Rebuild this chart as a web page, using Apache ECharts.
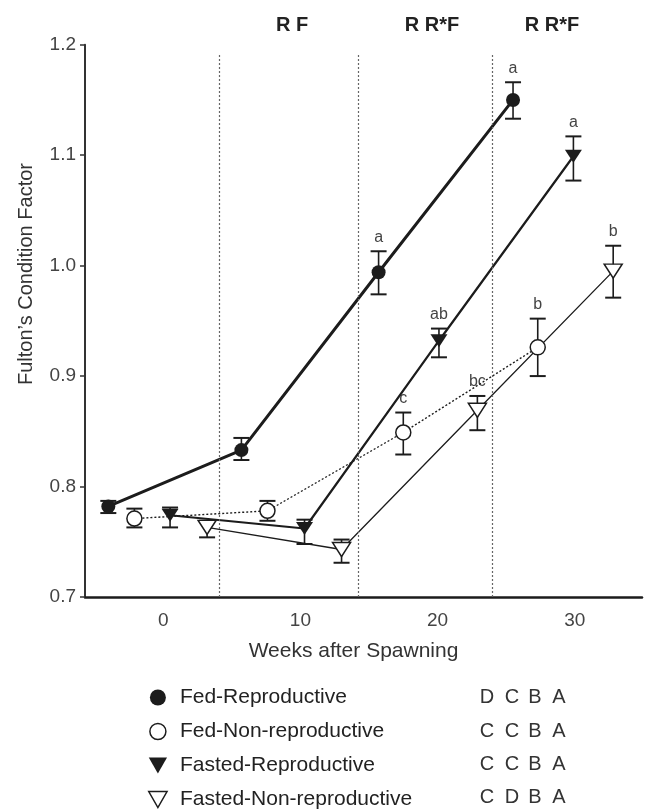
<!DOCTYPE html>
<html>
<head>
<meta charset="utf-8">
<script src="https://cdn.jsdelivr.net/npm/echarts@6/dist/echarts.min.js"></script>
<style>
  html, body { margin: 0; padding: 0; background: #ffffff; }
  #chart { width: 645px; height: 812px; }
</style>
</head>
<body>
<div id="chart"></div>
<script>
// ---- data -------------------------------------------------------------
const groupNames = ['Fed-Reproductive', 'Fed-Non-reproductive', 'Fasted-Reproductive', 'Fasted-Non-reproductive'];

const fedReproWeeks   = [-4.0, 5.7, 15.7, 25.5];
const fedReproMean    = [0.782, 0.833, 0.994, 1.150];
const fedReproUpper   = [0.787, 0.844, 1.013, 1.166];
const fedReproLower   = [0.776, 0.824, 0.974, 1.133];
const fedReproLetters = ['', '', 'a', 'a'];

const fedNonWeeks   = [-2.1, 7.6, 17.5, 27.3];
const fedNonMean    = [0.771, 0.778, 0.849, 0.926];
const fedNonUpper   = [0.780, 0.787, 0.867, 0.952];
const fedNonLower   = [0.763, 0.769, 0.829, 0.900];
const fedNonLetters = ['', '', 'c', 'b'];

const fastReproWeeks   = [0.5, 10.3, 20.1, 29.9];
const fastReproMean    = [0.774, 0.762, 0.932, 1.099];
const fastReproUpper   = [0.781, 0.770, 0.943, 1.117];
const fastReproLower   = [0.763, 0.748, 0.917, 1.077];
const fastReproLetters = ['', '', 'ab', 'a'];

const fastNonWeeks   = [3.2, 13.0, 22.9, 32.8];
const fastNonMean    = [0.763, 0.743, 0.869, 0.995];
const fastNonUpper   = [0.769, 0.752, 0.882, 1.018];
const fastNonLower   = [0.754, 0.731, 0.851, 0.971];
const fastNonLetters = ['', '', 'bc', 'b'];

const xTickValues = [0, 10, 20, 30];
const yTickMin = 0.7, yTickMax = 1.2, yTickStep = 0.1;
const periodDividers = [4.1, 14.2, 24.0];
const periodEffects = ['R F', 'R R*F', 'R R*F'];
const overallLetters = [
  ['D', 'C', 'B', 'A'],
  ['C', 'C', 'B', 'A'],
  ['C', 'C', 'B', 'A'],
  ['C', 'D', 'B', 'A']
];

// ---- styling ----------------------------------------------------------
const INK = '#1c1c1c';
const FONT = '"Liberation Sans", Arial, Helvetica, sans-serif';
const downTri = 'path://M0,0L16,0L8,14Z';

const groups = [
  { name: groupNames[0], weeks: fedReproWeeks, mean: fedReproMean, up: fedReproUpper, lo: fedReproLower, letters: fedReproLetters,
    symbol: 'circle', size: 14, fill: INK, border: INK, borderW: 0, line: { width: 3, type: 'solid' } },
  { name: groupNames[1], weeks: fedNonWeeks, mean: fedNonMean, up: fedNonUpper, lo: fedNonLower, letters: fedNonLetters,
    symbol: 'circle', size: 15, fill: '#ffffff', border: INK, borderW: 1.5, line: { width: 1.4, type: [2, 2] } },
  { name: groupNames[2], weeks: fastReproWeeks, mean: fastReproMean, up: fastReproUpper, lo: fastReproLower, letters: fastReproLetters,
    symbol: downTri, size: [17, 15], fill: INK, border: INK, borderW: 0, line: { width: 2.2, type: 'solid' } },
  { name: groupNames[3], weeks: fastNonWeeks, mean: fastNonMean, up: fastNonUpper, lo: fastNonLower, letters: fastNonLetters,
    symbol: downTri, size: [18, 16], fill: '#ffffff', border: INK, borderW: 1.5, line: { width: 1.3, type: 'solid' } }
];

// error bars with caps plus the significance letter above each bar
function errorBarRenderer(letters) {
  return function (params, api) {
    const x = api.value(0);
    const top = api.coord([x, api.value(2)]);
    const bot = api.coord([x, api.value(1)]);
    const half = 8;
    const children = [
      { type: 'line', shape: { x1: top[0], y1: top[1], x2: bot[0], y2: bot[1] }, style: { stroke: INK, lineWidth: 1.6 } },
      { type: 'line', shape: { x1: top[0] - half, y1: top[1], x2: top[0] + half, y2: top[1] }, style: { stroke: INK, lineWidth: 2 } },
      { type: 'line', shape: { x1: bot[0] - half, y1: bot[1], x2: bot[0] + half, y2: bot[1] }, style: { stroke: INK, lineWidth: 2 } }
    ];
    const letter = letters[params.dataIndex];
    if (letter) {
      children.push({ type: 'text', x: top[0], y: top[1] - 6,
        style: { text: letter, fontSize: 16, fontFamily: FONT, fill: '#444', align: 'center', verticalAlign: 'bottom' } });
    }
    return { type: 'group', children: children };
  };
}

const series = [];
groups.forEach(function (g) {
  series.push({
    type: 'custom',
    name: g.name + ' SE',
    z: 2,
    silent: true,
    renderItem: errorBarRenderer(g.letters),
    data: g.weeks.map(function (w, k) { return [w, g.lo[k], g.up[k]]; }),
    encode: { x: 0, y: [1, 2] }
  });
});
groups.forEach(function (g, i) {
  const s = {
    type: 'line',
    name: g.name,
    z: 3,
    symbol: g.symbol,
    symbolSize: g.size,
    symbolKeepAspect: true,
    showAllSymbol: true,
    data: g.weeks.map(function (w, k) { return [w, g.mean[k]]; }),
    itemStyle: { color: g.fill, borderColor: g.border, borderWidth: g.borderW, opacity: 1 },
    lineStyle: { color: INK, width: g.line.width, type: g.line.type },
    emphasis: { disabled: true },
    animation: false
  };
  if (i === 0) {
    s.markLine = {
      silent: true,
      symbol: ['none', 'none'],
      label: { show: false },
      lineStyle: { color: '#666', width: 1.2, type: [2, 2] },
      data: periodDividers.map(function (w) { return [{ coord: [w, yTickMin] }, { coord: [w, 1.1925] }]; })
    };
  }
  series.push(s);
});

// ---- overlay text -----------------------------------------------------
const graphics = [];
const effectX = [292, 432, 552];
periodEffects.forEach(function (t, i) {
  graphics.push({ type: 'text', x: effectX[i], y: 25,
    style: { text: t, fontSize: 20, fontWeight: 'bold', fontFamily: FONT, fill: '#222', align: 'center', verticalAlign: 'middle' } });
});
graphics.push({ type: 'text', x: 26, y: 274, rotation: Math.PI / 2,
  style: { text: 'Fulton\u2019s Condition Factor', fontSize: 20, fontFamily: FONT, fill: '#333', align: 'center', verticalAlign: 'middle' } });
const rowY = [697, 731, 764, 797];
const colX = [487, 512, 535, 559];
overallLetters.forEach(function (row, r) {
  row.forEach(function (t, c) {
    graphics.push({ type: 'text', x: colX[c], y: rowY[r],
      style: { text: t, fontSize: 20, fontFamily: FONT, fill: '#333', align: 'center', verticalAlign: 'middle' } });
  });
});

const legendIcons = ['circle', 'circle', downTri, downTri];

const option = {
  backgroundColor: '#ffffff',
  animation: false,
  grid: { left: 85, right: 3, top: 44.7, bottom: 215, outerBoundsMode: 'none' },
  xAxis: {
    type: 'value',
    min: -5.7, max: 34.9,
    name: 'Weeks after Spawning',
    nameLocation: 'middle',
    nameGap: 44,
    nameTextStyle: { fontSize: 21, fontFamily: FONT, color: '#333', padding: [0, 20, 0, 0] },
    axisLine: { show: true, onZero: false, lineStyle: { color: INK, width: 2.5 } },
    axisTick: { show: false },
    splitLine: { show: false },
    axisLabel: { customValues: xTickValues, fontSize: 19, fontFamily: FONT, color: '#444', margin: 14 }
  },
  yAxis: {
    type: 'value',
    min: yTickMin, max: yTickMax, interval: yTickStep,
    axisLine: { show: true, onZero: false, lineStyle: { color: '#333', width: 2 } },
    axisTick: { show: true, length: 5, inside: false, lineStyle: { color: '#333', width: 1.5 } },
    splitLine: { show: false },
    axisLabel: { fontSize: 19, fontFamily: FONT, color: '#444', margin: 9,
      formatter: function (v) { return v.toFixed(1); } }
  },
  legend: {
    orient: 'vertical',
    left: 148, top: 687,
    width: 320, height: 140,
    padding: 0,
    itemWidth: 34, itemHeight: 16,
    itemGap: 13,
    selectedMode: false,
    textStyle: { fontSize: 21, fontFamily: FONT, color: '#222', lineHeight: 21 },
    data: groups.map(function (g, i) {
      return { name: g.name, icon: legendIcons[i],
        itemStyle: { color: g.fill, borderColor: INK, borderWidth: g.borderW ? 1.5 : 0 } };
    })
  },
  graphic: graphics,
  series: series
};

const chart = echarts.init(document.getElementById('chart'), null, { renderer: 'canvas' });
chart.setOption(option);
</script>
</body>
</html>
